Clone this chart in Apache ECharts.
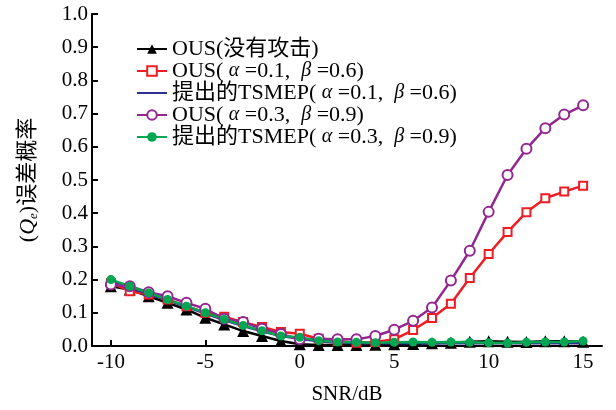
<!DOCTYPE html>
<html>
<head>
<meta charset="utf-8">
<script src="https://cdn.jsdelivr.net/npm/echarts@6/dist/echarts.min.js"></script>
<style>
  html, body { margin: 0; padding: 0; background: #fff; }
  #chart { width: 616px; height: 410px; }
</style>
</head>
<body>
<div id="chart"></div>
<script>
  // SNR (dB)
  const snr = [-10, -9, -8, -7, -6, -5, -4, -3, -2, -1, 0, 1, 2, 3, 4, 5, 6, 7, 8, 9, 10, 11, 12, 13, 14, 15];
  const xTicks = [-10, -5, 0, 5, 10, 15];

  const ousNoAttack = [0.18, 0.17, 0.15, 0.13, 0.11, 0.085, 0.065, 0.045, 0.03, 0.015, 0.005, 0.003, 0.003, 0.003, 0.004, 0.005, 0.006, 0.008, 0.01, 0.013, 0.014, 0.013, 0.012, 0.014, 0.014, 0.013];
  const ousA1 = [0.19, 0.165, 0.155, 0.14, 0.12, 0.10, 0.088, 0.072, 0.057, 0.042, 0.037, 0.022, 0.015, 0.01, 0.012, 0.02, 0.048, 0.084, 0.127, 0.205, 0.277, 0.343, 0.403, 0.445, 0.465, 0.483];
  const tsmepA1 = [0.195, 0.175, 0.157, 0.138, 0.118, 0.098, 0.078, 0.06, 0.044, 0.03, 0.022, 0.014, 0.01, 0.008, 0.008, 0.008, 0.008, 0.008, 0.008, 0.008, 0.008, 0.008, 0.008, 0.008, 0.008, 0.008];
  const ousA3 = [0.185, 0.18, 0.162, 0.15, 0.13, 0.112, 0.082, 0.072, 0.052, 0.036, 0.02, 0.022, 0.02, 0.02, 0.03, 0.049, 0.076, 0.116, 0.197, 0.287, 0.404, 0.515, 0.594, 0.656, 0.697, 0.725];
  const tsmepA3 = [0.2, 0.18, 0.16, 0.14, 0.12, 0.1, 0.08, 0.062, 0.046, 0.03, 0.026, 0.016, 0.012, 0.011, 0.01, 0.011, 0.012, 0.011, 0.012, 0.011, 0.01, 0.009, 0.011, 0.012, 0.012, 0.015];

  const names = ['OUS(没有攻击)', 'OUS( α =0.1,  β =0.6)', '提出的TSMEP( α =0.1,  β =0.6)', 'OUS( α =0.3,  β =0.9)', '提出的TSMEP( α =0.3,  β =0.9)'];

  const serif = '"Liberation Serif", "Noto Sans CJK SC", serif';

  function pairs(arr) {
    return snr.map((x, i) => [x, arr[i]]);
  }

  const chart = echarts.init(document.getElementById('chart'));
  chart.setOption({
    animation: false,
    grid: { left: 92, right: 14, top: 14, bottom: 62 },
    legend: {
      orient: 'vertical',
      left: 131,
      top: 33,
      itemWidth: 30,
      itemHeight: 12,
      itemGap: 0,
      formatter: n => n.replace(/([αβ])/g, '{g|$1}'),
      textStyle: {
        fontFamily: serif, fontSize: 22, color: '#000',
        rich: { g: { fontFamily: serif, fontSize: 20, fontStyle: 'italic', color: '#000' } }
      },
      data: names.map((n, i) => i === 2 ? { name: n, itemStyle: { opacity: 0 } } : n)
    },
    xAxis: {
      type: 'value',
      min: -11,
      max: 16,
      name: 'SNR/dB',
      nameLocation: 'middle',
      nameGap: 38,
      nameTextStyle: { fontFamily: serif, fontSize: 21, color: '#000' },
      axisLine: { lineStyle: { color: '#000', width: 2 } },
      axisTick: { inside: true, length: 6, customValues: xTicks, lineStyle: { color: '#000', width: 2 } },
      axisLabel: { customValues: xTicks, fontFamily: serif, fontSize: 21, color: '#000', margin: 6 },
      splitLine: { show: false }
    },
    yAxis: {
      type: 'value',
      min: 0,
      max: 1,
      interval: 0.1,
      name: '({q|Q}{s|e})误差概率',
      nameLocation: 'middle',
      nameRotate: 90,
      nameGap: 52,
      nameTextStyle: {
        fontFamily: serif, fontSize: 22, color: '#000',
        rich: {
          q: { fontFamily: serif, fontSize: 22, fontStyle: 'italic', color: '#000' },
          s: { fontFamily: serif, fontSize: 13, fontStyle: 'italic', color: '#000', verticalAlign: 'bottom', padding: [10, 0, 0, 0] }
        }
      },
      axisLine: { show: true, onZero: false, lineStyle: { color: '#000', width: 2 } },
      axisTick: { show: true, inside: true, length: 6, lineStyle: { color: '#000', width: 2 } },
      axisLabel: { fontFamily: serif, fontSize: 21, color: '#000', margin: 4, formatter: v => v.toFixed(1) },
      splitLine: { show: false }
    },
    series: [
      {
        name: names[0], type: 'line', data: pairs(ousNoAttack),
        symbol: 'triangle', symbolSize: 12,
        lineStyle: { color: '#000', width: 2.5 },
        itemStyle: { color: '#000' }
      },
      {
        name: names[1], type: 'line', data: pairs(ousA1),
        symbol: 'rect', symbolSize: 8,
        lineStyle: { color: '#ee1d24', width: 2.5 },
        itemStyle: { color: '#fff', borderColor: '#ee1d24', borderWidth: 2 }
      },
      {
        name: names[2], type: 'line', data: pairs(tsmepA1),
        symbol: 'none',
        lineStyle: { color: '#2e3192', width: 2.5 },
        itemStyle: { color: '#2e3192' }
      },
      {
        name: names[3], type: 'line', data: pairs(ousA3),
        symbol: 'circle', symbolSize: 10,
        lineStyle: { color: '#92278f', width: 2.5 },
        itemStyle: { color: '#fff', borderColor: '#92278f', borderWidth: 2 }
      },
      {
        name: names[4], type: 'line', data: pairs(tsmepA3),
        symbol: 'circle', symbolSize: 9,
        lineStyle: { color: '#00a651', width: 2.5 },
        itemStyle: { color: '#00a651' }
      }
    ]
  });
</script>
</body>
</html>
